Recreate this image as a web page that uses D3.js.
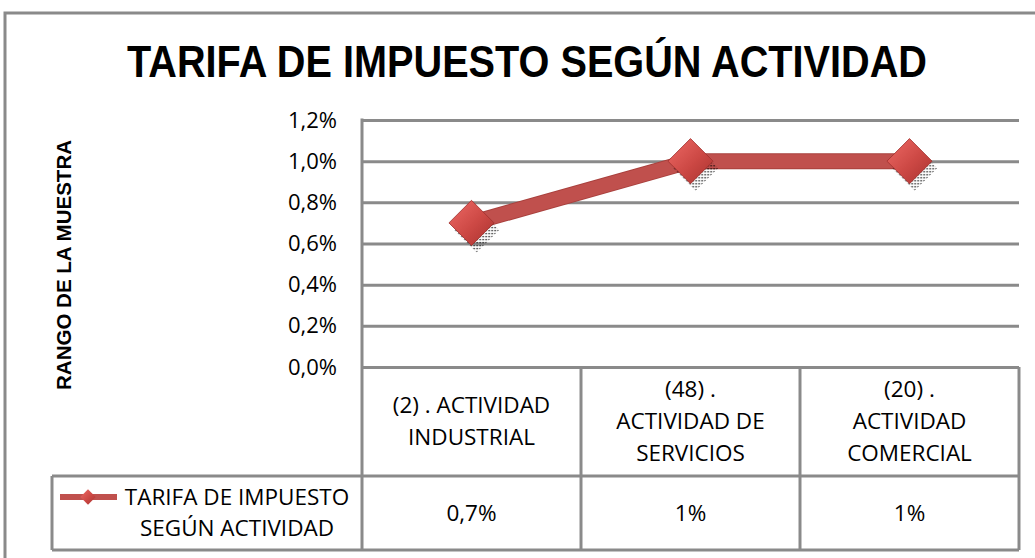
<!DOCTYPE html>
<html>
<head>
<meta charset="utf-8">
<script src="https://cdn.jsdelivr.net/npm/d3@7"></script>
<style>
  body { margin: 0; background: #fff; }
  svg { display: block; }
</style>
</head>
<body>
<div id="chart"></div>
<script>
const width = 1035;
const height = 558;

// Data
const categories = ["ind", "serv", "com"];
const categoryLines = [
    ["(2) . ACTIVIDAD", "INDUSTRIAL"],
    ["(48) .", "ACTIVIDAD DE", "SERVICIOS"],
    ["(20) .", "ACTIVIDAD", "COMERCIAL"]
];
const values = [0.007, 0.01, 0.01];
const valueLabels = ["0,7%", "1%", "1%"];
const yTicks = [0, 0.002, 0.004, 0.006, 0.008, 0.01, 0.012];
const seriesName = ["TARIFA DE IMPUESTO", "SEGÚN ACTIVIDAD"];

const plot = { left: 362, right: 1019, top: 120, bottom: 367 };
const table = { rowTop: 367, rowMid: 476, rowBottom: 550, legendLeft: 52 };
const grid = "#8a8a8a";
const red = "#C0504D";
const font = "'Open Sans', 'Liberation Sans', sans-serif";

const locale = d3.formatLocale({ decimal: ",", thousands: ".", grouping: [3], currency: ["", "€"] });
const fmt = locale.format(".1%");

const svg = d3.select("#chart")
    .append("svg")
    .attr("width", width)
    .attr("height", height);

const defs = svg.append("defs");
const grad = defs.append("linearGradient")
    .attr("id", "mk").attr("x1", "0").attr("y1", "0").attr("x2", "1").attr("y2", "1");
grad.append("stop").attr("offset", "0%").attr("stop-color", "#EE6A66");
grad.append("stop").attr("offset", "55%").attr("stop-color", "#CC4844");
grad.append("stop").attr("offset", "100%").attr("stop-color", "#A8322F");

const dots = defs.append("pattern")
    .attr("id", "dots").attr("width", 3).attr("height", 3)
    .attr("patternUnits", "userSpaceOnUse");
dots.append("rect").attr("width", 1.3).attr("height", 1.3).attr("fill", "#000");

// outer chart border
svg.append("rect")
    .attr("x", 5).attr("y", 13)
    .attr("width", width + 20).attr("height", height + 20)
    .attr("fill", "none")
    .attr("stroke", grid)
    .attr("stroke-width", 3);

// title
svg.append("text")
    .attr("x", 527).attr("y", 77)
    .attr("text-anchor", "middle")
    .attr("font-family", "'Liberation Sans', sans-serif")
    .attr("font-weight", "bold")
    .attr("font-size", 44)
    .attr("textLength", 800)
    .attr("lengthAdjust", "spacingAndGlyphs")
    .text("TARIFA DE IMPUESTO SEGÚN ACTIVIDAD");

// scales
const x = d3.scaleBand()
    .domain(categories)
    .range([plot.left, plot.right]);

const y = d3.scaleLinear()
    .domain([0, 0.012])
    .range([plot.bottom, plot.top]);

// Y axis with gridlines
const yAxis = svg.append("g")
    .attr("transform", `translate(${plot.left},0)`)
    .call(d3.axisLeft(y)
        .tickValues(yTicks)
        .tickFormat(fmt)
        .tickSize(-(plot.right - plot.left))
        .tickPadding(25));

yAxis.select(".domain").remove();
yAxis.selectAll(".tick line")
    .attr("stroke", grid)
    .attr("stroke-width", 3);
yAxis.selectAll(".tick text")
    .attr("font-family", font)
    .attr("font-size", 22)
    .attr("fill", "#000");

// left axis line
svg.append("line")
    .attr("x1", plot.left).attr("x2", plot.left)
    .attr("y1", plot.top - 1.5).attr("y2", table.rowBottom)
    .attr("stroke", grid).attr("stroke-width", 3);

// Y axis title
svg.append("text")
    .attr("transform", "translate(71,265) rotate(-90)")
    .attr("text-anchor", "middle")
    .attr("font-family", "'Liberation Sans', sans-serif")
    .attr("font-weight", "bold")
    .attr("font-size", 20)
    .attr("textLength", 250)
    .attr("lengthAdjust", "spacingAndGlyphs")
    .text("RANGO DE LA MUESTRA");

// data table lines
const tableG = svg.append("g")
    .attr("stroke", grid)
    .attr("stroke-width", 3)
    .attr("fill", "none");

tableG.append("line")
    .attr("x1", table.legendLeft).attr("x2", plot.right)
    .attr("y1", table.rowMid).attr("y2", table.rowMid);
tableG.append("line")
    .attr("x1", table.legendLeft).attr("x2", plot.right)
    .attr("y1", table.rowBottom).attr("y2", table.rowBottom);
tableG.append("line")
    .attr("x1", table.legendLeft).attr("x2", table.legendLeft)
    .attr("y1", table.rowMid).attr("y2", table.rowBottom);

tableG.selectAll(".col")
    .data(categories)
  .enter().append("line")
    .attr("x1", d => x(d) + x.bandwidth())
    .attr("x2", d => x(d) + x.bandwidth())
    .attr("y1", table.rowTop)
    .attr("y2", table.rowBottom);

// category labels
const lineH = 32;
const headMid = (table.rowTop + table.rowMid) / 2;
categories.forEach((c, i) => {
    const lines = categoryLines[i];
    const t = svg.append("text")
        .attr("text-anchor", "middle")
        .attr("font-family", font)
        .attr("font-size", 22.5)
        .attr("fill", "#000");
    lines.forEach((l, j) => {
        t.append("tspan")
            .attr("x", x(c) + x.bandwidth() / 2)
            .attr("y", headMid + (j - (lines.length - 1) / 2) * lineH)
            .attr("dy", "0.35em")
            .text(l);
    });
});

// value labels
svg.selectAll(".val")
    .data(categories)
  .enter().append("text")
    .attr("x", d => x(d) + x.bandwidth() / 2)
    .attr("y", (table.rowMid + table.rowBottom) / 2)
    .attr("dy", "0.35em")
    .attr("text-anchor", "middle")
    .attr("font-family", font)
    .attr("font-size", 22.5)
    .attr("fill", "#000")
    .text((d, i) => valueLabels[i]);

// legend key
const legY = 497;
svg.append("line")
    .attr("x1", 60).attr("x2", 117)
    .attr("y1", legY).attr("y2", legY)
    .attr("stroke", red).attr("stroke-width", 6);
svg.append("path")
    .attr("d", d3.symbol(d3.symbolDiamond2, 150)())
    .attr("transform", `translate(88,${legY})`)
    .attr("fill", "url(#mk)");

const legText = svg.append("text")
    .attr("text-anchor", "middle")
    .attr("font-family", font)
    .attr("font-size", 22.5)
    .attr("fill", "#000");
legText.append("tspan").attr("x", 237).attr("y", legY).attr("dy", "0.35em").text(seriesName[0]);
legText.append("tspan").attr("x", 237).attr("y", legY + 31).attr("dy", "0.35em").text(seriesName[1]);

// line series
const pts = categories.map((c, i) => [x(c) + x.bandwidth() / 2, y(values[i])]);

svg.append("path")
    .datum(pts)
    .attr("d", d3.line())
    .attr("fill", "none")
    .attr("stroke", "#A8403D")
    .attr("stroke-width", 16);
svg.append("path")
    .datum(pts)
    .attr("d", d3.line())
    .attr("fill", "none")
    .attr("stroke", red)
    .attr("stroke-width", 14);

// markers: dotted shadow then diamond
const diamond = d3.symbol(d3.symbolDiamond2, 1300)();
svg.selectAll(".shadow")
    .data(pts)
  .enter().append("path")
    .attr("d", diamond)
    .attr("transform", d => `translate(${d[0] + 5},${d[1] + 7})`)
    .attr("fill", "url(#dots)");

svg.selectAll(".marker")
    .data(pts)
  .enter().append("path")
    .attr("d", diamond)
    .attr("transform", d => `translate(${d[0]},${d[1]})`)
    .attr("fill", "url(#mk)")
    .attr("stroke", "#9E2F2C")
    .attr("stroke-width", 0.8);
</script>
</body>
</html>
